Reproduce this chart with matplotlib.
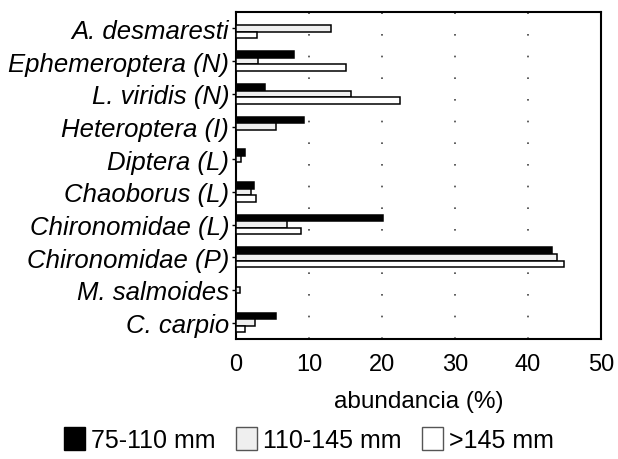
import numpy as np
import matplotlib
matplotlib.use('Agg')
import matplotlib.pyplot as plt
from matplotlib.patches import Patch

# datos (abundancia %)
taxa = ['A. desmaresti', 'Ephemeroptera (N)', 'L. viridis (N)', 'Heteroptera (I)',
        'Diptera (L)', 'Chaoborus (L)', 'Chironomidae (L)', 'Chironomidae (P)',
        'M. salmoides', 'C. carpio']
talla_75_110 = [0.0, 7.9, 4.0, 9.3, 1.2, 2.5, 20.1, 43.3, 0.0, 5.5]
talla_110_145 = [13.0, 3.0, 15.8, 5.5, 0.7, 2.1, 7.0, 44.0, 0.5, 2.6]
talla_145 = [2.9, 15.1, 22.5, 0.0, 0.0, 2.7, 8.9, 44.9, 0.0, 1.2]
series_labels = ['75-110 mm', '110-145 mm', '>145 mm']
x_ticks = [0, 10, 20, 30, 40, 50]

plt.rcParams['font.family'] = ['Liberation Sans', 'DejaVu Sans']

fig = plt.figure(figsize=(6.18, 4.6), dpi=100)
ax = fig.add_axes([0.382, 0.261, 0.5905, 0.7105])

y = np.arange(len(taxa))
h = 0.2
styles = [dict(color='black', edgecolor='black'),
          dict(color='#efefef', edgecolor='black'),
          dict(color='white', edgecolor='black')]
for k, (vals, st) in enumerate(zip([talla_75_110, talla_110_145, talla_145], styles)):
    ax.barh(y + (k - 1) * h, vals, height=h, facecolor=st['color'],
            edgecolor=st['edgecolor'], linewidth=1.1, zorder=3)

ax.set_ylim(len(taxa) - 0.5, -0.5)
ax.set_xlim(0, 50)
ax.set_xticks(x_ticks)
ax.set_yticks(y)
ax.set_yticklabels(taxa, fontstyle='italic', fontsize=18.5)
ax.tick_params(axis='x', length=0, pad=10, labelsize=17)
ax.tick_params(axis='y', length=3, width=1, pad=2)

for xv in x_ticks[1:-1]:
    ax.axvline(xv, color='#444444', linewidth=1.2, linestyle=(0, (1, 12)), zorder=1)

for s in ax.spines.values():
    s.set_linewidth(1.5)

ax.set_xlabel('abundancia (%)', fontsize=17.5, labelpad=11)

handles = [Patch(facecolor=st['color'], edgecolor=st['edgecolor'] if i == 0 else '#555555',
                 linewidth=1.0) for i, st in enumerate(styles)]
fig.legend(handles, series_labels, loc='center', bbox_to_anchor=(0.5, 0.043), ncol=3,
           frameon=False, fontsize=18, handlelength=0.85, handleheight=1.05,
           handletextpad=0.25, columnspacing=0.8, borderaxespad=0)

fig.savefig('out.png', dpi=100)
